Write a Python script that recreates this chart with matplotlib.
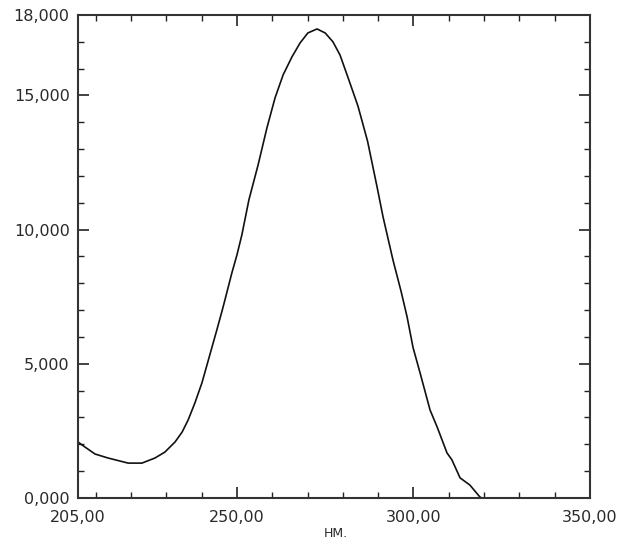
import numpy as np
import matplotlib
matplotlib.use("Agg")
import matplotlib.pyplot as plt
from matplotlib.ticker import FixedLocator, FuncFormatter

# Absorption spectrum, wavelength in nm and absorbance
wavelength = [205.0, 206.1, 209.8, 213.5, 219.2, 223.1, 226.8, 229.6, 232.5,
              234.5, 236.2, 238.1, 240.1, 244.4, 246.1, 248.6, 250.0, 251.4,
              253.4, 256.0, 258.5, 260.8, 263.1, 265.6, 267.9, 270.1, 272.7,
              275.0, 277.2, 279.2, 281.2, 282.9, 284.3, 287.0, 289.7, 291.4,
              294.2, 296.5, 298.2, 299.9, 301.9, 304.7, 306.7, 309.5, 310.9,
              313.2, 316.0, 318.8, 319.4]
absorbance = [2.09, 1.98, 1.64, 1.49, 1.30, 1.30, 1.49, 1.71, 2.09,
              2.46, 2.91, 3.54, 4.29, 6.30, 7.12, 8.40, 9.05, 9.80,
              11.11, 12.41, 13.79, 14.91, 15.77, 16.44, 16.96, 17.33, 17.48,
              17.33, 17.00, 16.51, 15.77, 15.13, 14.60, 13.30, 11.59, 10.47,
              8.87, 7.70, 6.75, 5.60, 4.65, 3.28, 2.65, 1.68, 1.42,
              0.75, 0.48, 0.04, 0.0]

x_major = [205, 250, 300, 350]
x_minor = [210, 220, 230, 240, 260, 270, 280, 290, 310, 320, 330, 340]
y_major = [0, 5, 10, 15, 18]
y_minor = [1, 2, 3, 4, 6, 7, 8, 9, 11, 12, 13, 14, 16, 17]

fig = plt.figure(figsize=(6.24, 5.41), dpi=100)
ax = fig.add_axes([0.125, 0.0795, 0.8205, 0.8928])

ax.plot(wavelength, absorbance, color="#111111", linewidth=1.2)

ax.set_xlim(205, 350)
ax.set_ylim(0, 18)

ax.xaxis.set_major_locator(FixedLocator(x_major))
ax.xaxis.set_minor_locator(FixedLocator(x_minor))
ax.yaxis.set_major_locator(FixedLocator(y_major))
ax.yaxis.set_minor_locator(FixedLocator(y_minor))

ax.xaxis.set_major_formatter(FuncFormatter(lambda v, p: f"{v:.2f}".replace(".", ",")))
ax.yaxis.set_major_formatter(FuncFormatter(lambda v, p: f"{v:.3f}".replace(".", ",")))

ax.tick_params(which="both", direction="in", top=True, right=True,
               color="#222222", labelsize=11.5, labelcolor="#2a2a2a")
ax.tick_params(which="major", length=8, width=1.2)
ax.tick_params(which="minor", length=4, width=1.0)
ax.tick_params(axis="x", which="major", pad=9)
ax.tick_params(axis="y", which="major", pad=6)

for side in ax.spines.values():
    side.set_linewidth(1.5)
    side.set_color("#333333")

fig.text(0.538, 0.013, "НМ.", ha="center", va="center", fontsize=9,
         color="#2a2a2a")

fig.savefig("out.png", dpi=100)
